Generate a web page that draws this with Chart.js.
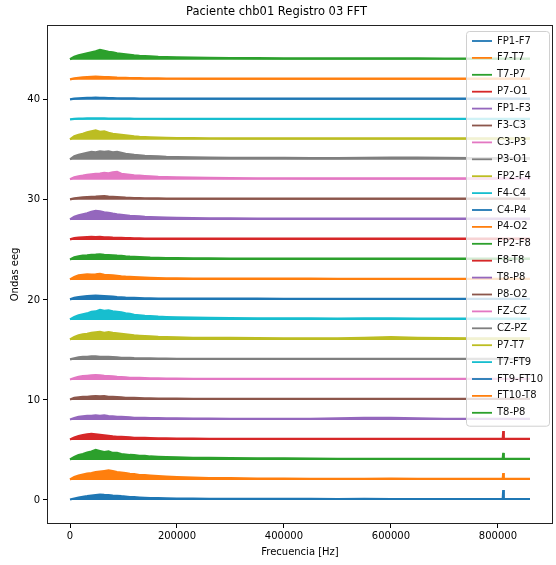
<!DOCTYPE html>
<html>
<head>
<meta charset="utf-8">
<script src="https://cdn.jsdelivr.net/npm/chart.js@4.4.1/dist/chart.umd.min.js"></script>
<style>
  html, body { margin: 0; padding: 0; background: #fff; }
  #wrap { width: 556px; height: 565px; }
</style>
</head>
<body>
<div id="wrap"><canvas id="c" width="556" height="565"></canvas></div>
<script>
// ---- data ----
const channels = ["FP1-F7","F7-T7","T7-P7","P7-O1","FP1-F3","F3-C3","C3-P3","P3-O1","FP2-F4","F4-C4","C4-P4","P4-O2","FP2-F8","F8-T8","T8-P8","P8-O2","FZ-CZ","CZ-PZ","P7-T7","T7-FT9","FT9-FT10","FT10-T8","T8-P8"];
const offsets = [0,2,4,6,8,10,12,14,16,18,20,22,24,26,28,30,32,34,36,38,40,42,44];
const freqs = [0,8000,16000,24000,32000,40000,48000,56000,64000,72000,80000,88000,96000,104000,112000,120000,130000,140000,150000,165000,180000,200000,230000,260000,300000,350000,400000,450000,500000,550000,600000,650000,700000,750000,800000,809000,810000,811000,860000];
const xTicks = [0,200000,400000,600000,800000];
const yTicks = [0,10,20,30,40];
const colors = ["#1f77b4","#ff7f0e","#2ca02c","#d62728","#9467bd","#8c564b","#e377c2","#7f7f7f","#bcbd22","#17becf"];

const amp_FP1_F7 = [0.05,0.15,0.25,0.32,0.38,0.45,0.5,0.55,0.52,0.5,0.45,0.42,0.38,0.35,0.3,0.28,0.25,0.22,0.2,0.18,0.16,0.15,0.13,0.12,0.12,0.11,0.12,0.11,0.1,0.11,0.1,0.1,0.1,0.1,0.1,0.1,1.0,0.1,0.1];
const amp_F7_T7 = [0.05,0.3,0.45,0.55,0.65,0.7,0.78,0.85,0.9,0.95,0.88,0.8,0.75,0.7,0.62,0.58,0.5,0.48,0.45,0.4,0.35,0.3,0.25,0.2,0.18,0.15,0.15,0.12,0.12,0.12,0.15,0.12,0.12,0.12,0.12,0.12,0.7,0.12,0.12];
const amp_T7_P7 = [0.05,0.3,0.5,0.6,0.75,0.85,1.0,0.9,0.8,0.85,0.7,0.72,0.6,0.55,0.5,0.48,0.42,0.4,0.35,0.32,0.28,0.25,0.22,0.2,0.18,0.16,0.15,0.14,0.12,0.12,0.12,0.12,0.12,0.12,0.12,0.12,0.7,0.12,0.12];
const amp_P7_O1 = [0.05,0.25,0.4,0.5,0.55,0.6,0.55,0.5,0.45,0.4,0.35,0.32,0.3,0.28,0.25,0.22,0.2,0.2,0.18,0.16,0.15,0.14,0.13,0.12,0.12,0.12,0.11,0.11,0.1,0.1,0.1,0.1,0.1,0.1,0.1,0.1,0.9,0.1,0.1];
const amp_FP1_F3 = [0.05,0.2,0.3,0.35,0.4,0.4,0.45,0.42,0.45,0.38,0.35,0.3,0.3,0.28,0.25,0.22,0.2,0.2,0.18,0.18,0.16,0.15,0.14,0.13,0.12,0.12,0.12,0.12,0.15,0.2,0.2,0.15,0.12,0.12,0.12,0.12,0.12,0.12,0.12];
const amp_F3_C3 = [0.05,0.2,0.25,0.3,0.32,0.35,0.38,0.35,0.38,0.32,0.3,0.28,0.25,0.22,0.2,0.2,0.18,0.16,0.15,0.14,0.13,0.13,0.12,0.12,0.12,0.12,0.12,0.11,0.11,0.11,0.11,0.11,0.11,0.11,0.11,0.11,0.11,0.11,0.11];
const amp_C3_P3 = [0.05,0.2,0.3,0.38,0.42,0.45,0.48,0.45,0.4,0.38,0.35,0.3,0.28,0.25,0.22,0.2,0.2,0.18,0.16,0.15,0.14,0.13,0.12,0.12,0.12,0.12,0.12,0.11,0.11,0.11,0.11,0.11,0.11,0.11,0.11,0.11,0.11,0.11,0.11];
const amp_P3_O1 = [0.05,0.15,0.25,0.3,0.32,0.35,0.35,0.32,0.3,0.3,0.28,0.25,0.22,0.2,0.2,0.18,0.17,0.16,0.15,0.14,0.13,0.12,0.12,0.12,0.12,0.12,0.11,0.11,0.11,0.11,0.11,0.11,0.11,0.11,0.11,0.11,0.11,0.11,0.11];
const amp_FP2_F4 = [0.05,0.3,0.45,0.55,0.6,0.7,0.75,0.8,0.72,0.78,0.7,0.65,0.6,0.55,0.5,0.45,0.42,0.38,0.35,0.3,0.28,0.25,0.22,0.2,0.2,0.18,0.17,0.16,0.16,0.22,0.28,0.22,0.18,0.15,0.15,0.15,0.15,0.15,0.15];
const amp_F4_C4 = [0.05,0.3,0.45,0.55,0.65,0.8,0.85,1.0,0.9,0.95,0.85,0.8,0.75,0.65,0.6,0.5,0.45,0.4,0.38,0.32,0.28,0.25,0.22,0.2,0.18,0.16,0.15,0.15,0.14,0.16,0.15,0.14,0.14,0.14,0.14,0.14,0.14,0.14,0.14];
const amp_C4_P4 = [0.05,0.2,0.28,0.33,0.38,0.4,0.42,0.4,0.38,0.35,0.32,0.28,0.25,0.22,0.2,0.2,0.18,0.16,0.15,0.14,0.13,0.13,0.12,0.12,0.12,0.12,0.11,0.11,0.11,0.11,0.11,0.11,0.11,0.11,0.11,0.11,0.11,0.11,0.11];
const amp_P4_O2 = [0.05,0.3,0.45,0.5,0.55,0.52,0.55,0.6,0.5,0.48,0.45,0.4,0.35,0.32,0.3,0.28,0.25,0.22,0.2,0.18,0.16,0.15,0.14,0.13,0.12,0.12,0.12,0.12,0.11,0.11,0.11,0.11,0.11,0.11,0.11,0.11,0.11,0.11,0.11];
const amp_FP2_F8 = [0.05,0.25,0.35,0.42,0.45,0.5,0.52,0.55,0.5,0.48,0.45,0.42,0.4,0.35,0.32,0.3,0.28,0.25,0.22,0.2,0.18,0.17,0.16,0.15,0.14,0.13,0.13,0.13,0.12,0.12,0.12,0.12,0.12,0.12,0.12,0.12,0.12,0.12,0.12];
const amp_F8_T8 = [0.05,0.18,0.22,0.25,0.28,0.3,0.28,0.3,0.26,0.25,0.22,0.2,0.2,0.18,0.17,0.16,0.15,0.14,0.14,0.13,0.13,0.12,0.12,0.12,0.12,0.12,0.12,0.12,0.12,0.12,0.12,0.12,0.12,0.12,0.12,0.12,0.12,0.12,0.12];
const amp_T8_P8a = [0.05,0.3,0.45,0.55,0.65,0.8,0.9,0.85,0.75,0.7,0.62,0.55,0.5,0.45,0.4,0.38,0.35,0.3,0.28,0.25,0.22,0.2,0.18,0.16,0.15,0.14,0.13,0.13,0.13,0.13,0.13,0.13,0.13,0.13,0.13,0.13,0.13,0.13,0.13];
const amp_P8_O2 = [0.05,0.15,0.2,0.25,0.28,0.3,0.32,0.35,0.38,0.32,0.3,0.28,0.25,0.22,0.2,0.18,0.17,0.16,0.15,0.14,0.13,0.13,0.12,0.12,0.12,0.12,0.12,0.12,0.12,0.12,0.12,0.12,0.12,0.12,0.12,0.12,0.12,0.12,0.12];
const amp_FZ_CZ = [0.05,0.25,0.35,0.42,0.5,0.55,0.6,0.62,0.7,0.65,0.75,0.8,0.6,0.55,0.5,0.45,0.42,0.38,0.35,0.3,0.28,0.25,0.22,0.2,0.18,0.16,0.16,0.15,0.15,0.15,0.15,0.15,0.15,0.14,0.14,0.14,0.14,0.14,0.14];
const amp_CZ_PZ = [0.05,0.35,0.5,0.6,0.7,0.8,0.75,0.85,0.8,0.85,0.75,0.8,0.7,0.6,0.55,0.5,0.45,0.4,0.38,0.35,0.3,0.28,0.25,0.22,0.2,0.2,0.2,0.18,0.18,0.2,0.22,0.22,0.2,0.18,0.18,0.18,0.18,0.18,0.18];
const amp_P7_T7 = [0.05,0.35,0.5,0.6,0.75,0.85,0.95,0.8,0.85,0.7,0.6,0.55,0.5,0.45,0.4,0.35,0.3,0.28,0.25,0.22,0.2,0.18,0.17,0.16,0.15,0.15,0.15,0.15,0.14,0.14,0.14,0.14,0.14,0.14,0.14,0.14,0.14,0.14,0.14];
const amp_T7_FT9 = [0.05,0.1,0.12,0.12,0.14,0.15,0.15,0.14,0.14,0.13,0.12,0.12,0.12,0.12,0.12,0.11,0.11,0.11,0.11,0.11,0.1,0.1,0.1,0.1,0.1,0.1,0.1,0.1,0.1,0.1,0.1,0.1,0.1,0.1,0.1,0.1,0.1,0.1,0.1];
const amp_FT9_FT10 = [0.05,0.12,0.15,0.18,0.2,0.2,0.22,0.2,0.2,0.18,0.17,0.16,0.15,0.15,0.14,0.14,0.13,0.13,0.13,0.12,0.12,0.12,0.12,0.12,0.12,0.12,0.12,0.12,0.12,0.12,0.12,0.12,0.12,0.12,0.12,0.12,0.12,0.12,0.12];
const amp_FT10_T8 = [0.05,0.15,0.2,0.25,0.28,0.3,0.32,0.3,0.28,0.28,0.25,0.22,0.2,0.2,0.18,0.17,0.16,0.15,0.15,0.14,0.13,0.13,0.12,0.12,0.12,0.12,0.12,0.12,0.12,0.12,0.12,0.12,0.12,0.12,0.12,0.12,0.12,0.12,0.12];
const amp_T8_P8b = [0.05,0.3,0.45,0.55,0.65,0.75,0.85,1.0,0.9,0.8,0.75,0.65,0.6,0.55,0.5,0.45,0.4,0.38,0.35,0.3,0.28,0.25,0.22,0.2,0.18,0.16,0.15,0.15,0.14,0.14,0.14,0.14,0.13,0.13,0.13,0.13,0.13,0.13,0.13];

const amplitudes = [amp_FP1_F7,amp_F7_T7,amp_T7_P7,amp_P7_O1,amp_FP1_F3,amp_F3_C3,amp_C3_P3,amp_P3_O1,amp_FP2_F4,amp_F4_C4,amp_C4_P4,amp_P4_O2,amp_FP2_F8,amp_F8_T8,amp_T8_P8a,amp_P8_O2,amp_FZ_CZ,amp_CZ_PZ,amp_P7_T7,amp_T7_FT9,amp_FT9_FT10,amp_FT10_T8,amp_T8_P8b];

// ---- chart ----
const FONT = "'DejaVu Sans', sans-serif";
const datasets = channels.map((name, i) => {
  const col = colors[i % colors.length];
  return {
    label: name,
    data: freqs.map((f, j) => ({ x: f, y: offsets[i] + amplitudes[i][j] })),
    borderColor: col,
    backgroundColor: col,
    borderWidth: 2.2,
    pointRadius: 0,
    tension: 0,
    fill: { value: offsets[i] }
  };
});

const framePlugin = {
  id: 'frame',
  afterDraw(chart) {
    const { ctx, chartArea: a } = chart;
    ctx.save();
    ctx.strokeStyle = '#222';
    ctx.lineWidth = 1;
    ctx.strokeRect(Math.round(a.left) + 0.5, Math.round(a.top) + 0.5, Math.round(a.right - a.left) - 1, Math.round(a.bottom - a.top) - 1);
    // legend (matplotlib style, inside upper right)
    const rowH = 16.9, boxW = 83, padTop = 10;
    const boxH = rowH * chart.data.datasets.length + 6;
    const bx = Math.round(a.right) - boxW - 4, by = Math.round(a.top) + 6;
    ctx.fillStyle = 'rgba(255,255,255,0.8)';
    ctx.strokeStyle = '#d0d0d0';
    ctx.beginPath();
    if (ctx.roundRect) ctx.roundRect(bx + 0.5, by + 0.5, boxW, boxH, 3); else ctx.rect(bx + 0.5, by + 0.5, boxW, boxH);
    ctx.fill(); ctx.stroke();
    ctx.font = '10px ' + FONT;
    ctx.textBaseline = 'middle';
    ctx.textAlign = 'left';
    chart.data.datasets.forEach((ds, i) => {
      const y = by + padTop + i * rowH;
      ctx.strokeStyle = ds.borderColor;
      ctx.lineWidth = 1.8;
      ctx.beginPath(); ctx.moveTo(bx + 6, y); ctx.lineTo(bx + 26, y); ctx.stroke();
      ctx.fillStyle = '#111';
      ctx.fillText(ds.label, bx + 31, y);
    });
    ctx.restore();
  }
};

new Chart(document.getElementById('c'), {
  type: 'line',
  data: { datasets },
  plugins: [framePlugin],
  options: {
    responsive: false,
    animation: false,
    devicePixelRatio: 1,
    layout: { padding: { left: 0, right: 3, top: 0, bottom: 0 } },
    plugins: {
      legend: { display: false },
      tooltip: { enabled: false },
      title: {
        display: true,
        text: 'Paciente chb01 Registro 03 FFT',
        color: '#000',
        font: { family: FONT, size: 11.5, weight: 'normal' },
        padding: { top: 5, bottom: 6 }
      }
    },
    scales: {
      x: {
        type: 'linear',
        min: -43000,
        max: 903000,
        afterBuildTicks: s => { s.ticks = xTicks.map(v => ({ value: v })); },
        afterFit: s => { s.height = 41; },
        ticks: { callback: v => String(v), color: '#000', font: { family: FONT, size: 10 }, padding: 2, maxRotation: 0, autoSkip: false },
        grid: { display: true, drawOnChartArea: false, drawTicks: true, tickLength: 4, color: '#000', lineWidth: 1 },
        border: { display: false },
        title: { display: true, text: 'Frecuencia [Hz]', color: '#000', font: { family: FONT, size: 10 }, padding: { top: 0, bottom: 7 } }
      },
      y: {
        type: 'linear',
        min: -2.4,
        max: 47.5,
        afterBuildTicks: s => { s.ticks = yTicks.map(v => ({ value: v })); },
        afterFit: s => { s.width = 47; },
        ticks: { callback: v => String(v), color: '#000', font: { family: FONT, size: 10 }, padding: 3 },
        grid: { display: true, drawOnChartArea: false, drawTicks: true, tickLength: 4, color: '#000', lineWidth: 1 },
        border: { display: false },
        title: { display: true, text: 'Ondas eeg', color: '#000', font: { family: FONT, size: 10 }, padding: { top: 9, bottom: 0 } }
      }
    }
  }
});
</script>
</body>
</html>
